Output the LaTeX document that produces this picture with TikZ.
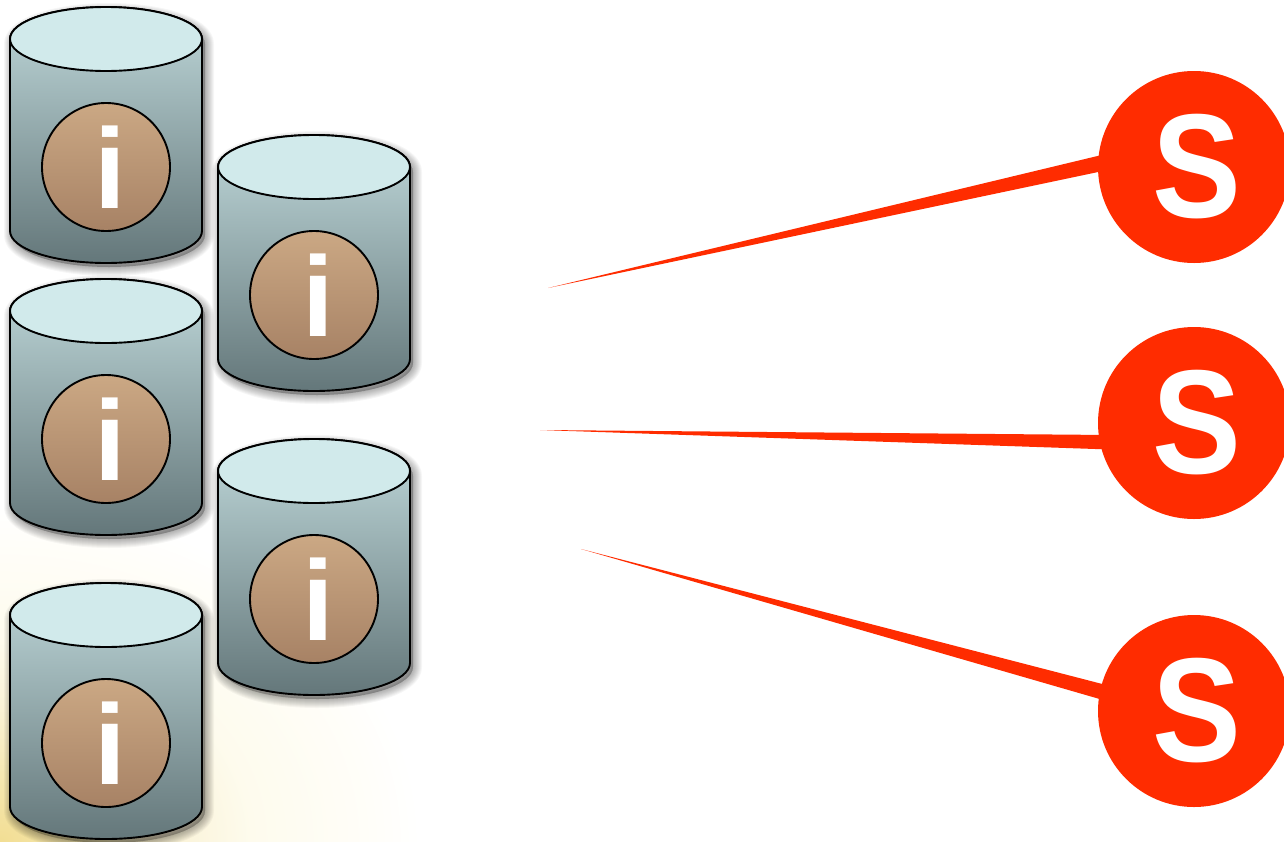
\documentclass[tikz,border=0pt]{standalone}
\usepackage{fontspec}
\setmainfont{Liberation Sans}
\usetikzlibrary{calc}
\definecolor{lid}{HTML}{D1EAEB}
\definecolor{bodytop}{HTML}{BFD8DA}
\definecolor{bodybot}{HTML}{64777A}
\definecolor{disctop}{HTML}{CBA884}
\definecolor{discbot}{HTML}{A78265}
\definecolor{sred}{HTML}{FF2C00}
\pgfdeclareradialshading{bgglow}{\pgfpointorigin}{%
  rgb(0bp)=(0.95,0.87,0.58);
  rgb(5bp)=(0.96,0.91,0.70);
  rgb(10bp)=(0.98,0.95,0.84);
  rgb(15bp)=(0.995,0.985,0.93);
  rgb(22bp)=(1,0.995,0.975);
  rgb(25bp)=(1,1,1);
  rgb(50bp)=(1,1,1)}
\tikzset{
  x=1pt,y=-1pt,
  disc/.style={circle,draw=black,line width=1.9pt,minimum size=128pt,inner sep=0pt,top color=disctop,bottom color=discbot},
  infoletter/.style={text=white,font=\bfseries\fontsize{114}{114}\selectfont,inner sep=0pt,anchor=base},
  sdisc/.style={circle,fill=sred,minimum size=192pt,inner sep=0pt},
  sletter/.style={text=white,font=\bfseries\fontsize{148}{148}\selectfont,inner sep=0pt,anchor=base,xscale=0.9},
  ray/.style={fill=sred},
  outline/.style={draw=black,line width=1.9pt}
}
\newcommand{\dbcyl}[3]{%
  \begin{scope}[shift={(#2,#3)}]
    \foreach \w in {18,16,14,12,10,8,6,4,2}
      \draw[black,draw opacity=0.035,fill=black,fill opacity=0.03,line width=\w pt,line join=round]
        (3,37) arc[start angle=180,end angle=360,x radius=96,y radius=32]
        -- (195,228) arc[start angle=0,end angle=180,x radius=96,y radius=32] -- cycle;
    \shade[top color=bodytop,bottom color=bodybot]
      (0,32) arc[start angle=180,end angle=360,x radius=96,y radius=32]
      -- (192,224) arc[start angle=0,end angle=180,x radius=96,y radius=32] -- cycle;
    \draw[outline]
      (0,32) arc[start angle=180,end angle=360,x radius=96,y radius=32]
      -- (192,224) arc[start angle=0,end angle=180,x radius=96,y radius=32] -- cycle;
    \draw[outline,fill=lid] (96,32) ellipse[x radius=96,y radius=32];
    \node[disc] (disc#1) at (96,160) {};
    \node[infoletter] (letter#1) at (100.5,201) {i};
  \end{scope}}
\begin{document}
\begin{tikzpicture}
\useasboundingbox (0,0) rectangle (1284,841);
\clip (0,0) rectangle (1284,841);
\fill[white] (0,0) rectangle (1284,841);
\shade[shading=bgglow,shift={(0,841)},yscale=0.8] (0,0) circle[radius=420];
\dbcyl{a}{10}{7}
\dbcyl{b}{218}{135}
\dbcyl{c}{10}{279}
\dbcyl{d}{218}{439}
\dbcyl{e}{10}{583}
\node[sdisc] (s1) at (1194,167) {};
\node[sdisc] (s2) at (1194,423) {};
\node[sdisc] (s3) at (1194,711) {};
\coordinate (t1) at (548,288);
\coordinate (t2) at (540,430);
\coordinate (t3) at (581,549);
\fill[ray] (t1) -- ($(s1)+(-84,-14)$) -- ($(s1)+(-84,2.5)$) -- cycle;
\fill[ray] (t2) -- ($(s2)+(-84,12)$) -- ($(s2)+(-84,26.5)$) -- cycle;
\fill[ray] (t3) -- ($(s3)+(-84,-25)$) -- ($(s3)+(-84,-9)$) -- cycle;
\node[sletter] (l1) at (1197,217.5) {S};
\node[sletter] (l2) at (1197,473.5) {S};
\node[sletter] (l3) at (1197,761.5) {S};
\end{tikzpicture}
\end{document}
